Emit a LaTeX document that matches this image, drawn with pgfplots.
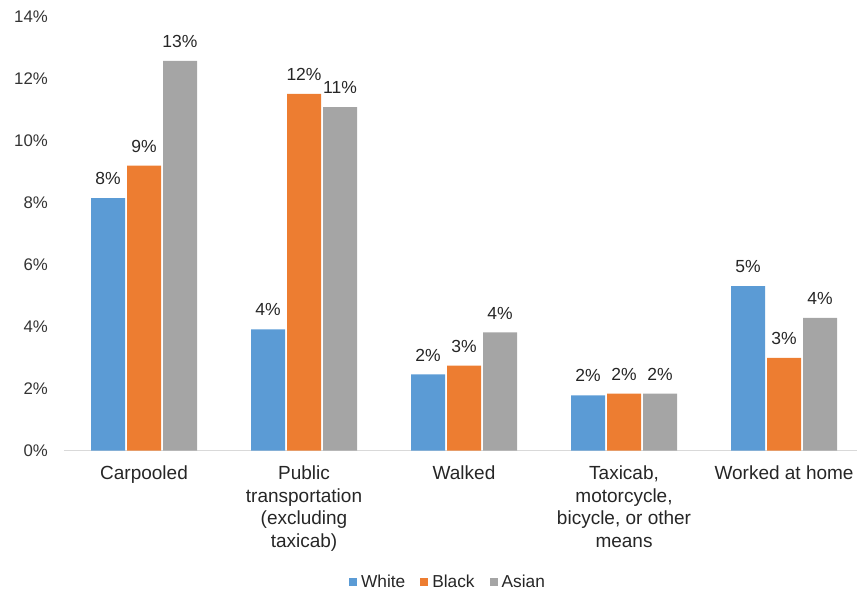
\documentclass[border=0pt]{standalone}
\usepackage{fontspec}
\setmainfont{Liberation Sans}
\usepackage{pgfplots}
\pgfplotsset{compat=1.18}
\definecolor{cwhite}{HTML}{5B9BD5}
\definecolor{cblack}{HTML}{ED7D31}
\definecolor{casian}{HTML}{A5A5A5}
\definecolor{axisgray}{HTML}{D9D9D9}
\definecolor{txt}{HTML}{262626}
\definecolor{ticktxt}{HTML}{333333}
\begin{document}
\begin{tikzpicture}[x=1pt,y=1pt]
\useasboundingbox (0,0) rectangle (857,590);
\begin{axis}[
  at={(64pt,139.3pt)}, anchor=south west,
  scale only axis, width=793pt, height=433.7pt,
  xmin=-0.5, xmax=4.456, ymin=0, ymax=14,
  ybar=2pt, bar width=34pt,
  axis x line*=bottom, axis y line*=left,
  x axis line style={-, draw=axisgray, line width=1pt},
  y axis line style={draw=none},
  major tick length=0pt,
  ytick={0,2,...,14},
  yticklabel={\pgfmathprintnumber{\tick}\%},
  xtick={0,...,4},
  xticklabels={Carpooled, {Public\\transportation\\(excluding\\taxicab)}, Walked, {Taxicab,\\motorcycle,\\bicycle, or other\\means}, Worked at home},
  xticklabel style={align=center, anchor=north, inner sep=0pt, yshift=-15.3pt, font=\fontsize{19}{22.5}\selectfont, text=txt},
  yticklabel style={anchor=east, inner sep=0pt, xshift=-16pt, font=\fontsize{16.8}{19}\selectfont, text=ticktxt},
  /pgf/number format/assume math mode=true,
  nodes near coords, point meta=explicit symbolic,
  every node near coord/.append style={anchor=south, inner sep=0pt, yshift=13pt, font=\fontsize{17.5}{20}\selectfont, text=txt},
  legend columns=3,
  legend image code/.code={\fill[#1] (0pt,-4pt) rectangle (8pt,4pt);},
  legend style={at={(0.483,-0.302)}, anchor=center, draw=none, fill=none,
    font=\fontsize{17.3}{20}\selectfont, text=txt,
    nodes={inner sep=0pt},
    /tikz/every odd column/.append style={column sep=4pt},
    /tikz/every even column/.append style={column sep=15pt}},
]
\addplot[fill=cwhite, draw=none] coordinates {(0,8.15) [8\%] (1,3.92) [4\%] (2,2.46) [2\%] (3,1.79) [2\%] (4,5.31) [5\%]};
\addplot[fill=cblack, draw=none] coordinates {(0,9.2) [9\%] (1,11.52) [12\%] (2,2.75) [3\%] (3,1.84) [2\%] (4,3.0) [3\%]};
\addplot[fill=casian, draw=none] coordinates {(0,12.58) [13\%] (1,11.09) [11\%] (2,3.82) [4\%] (3,1.84) [2\%] (4,4.29) [4\%]};
\legend{White, Black, Asian}
\end{axis}
\end{tikzpicture}
\end{document}
